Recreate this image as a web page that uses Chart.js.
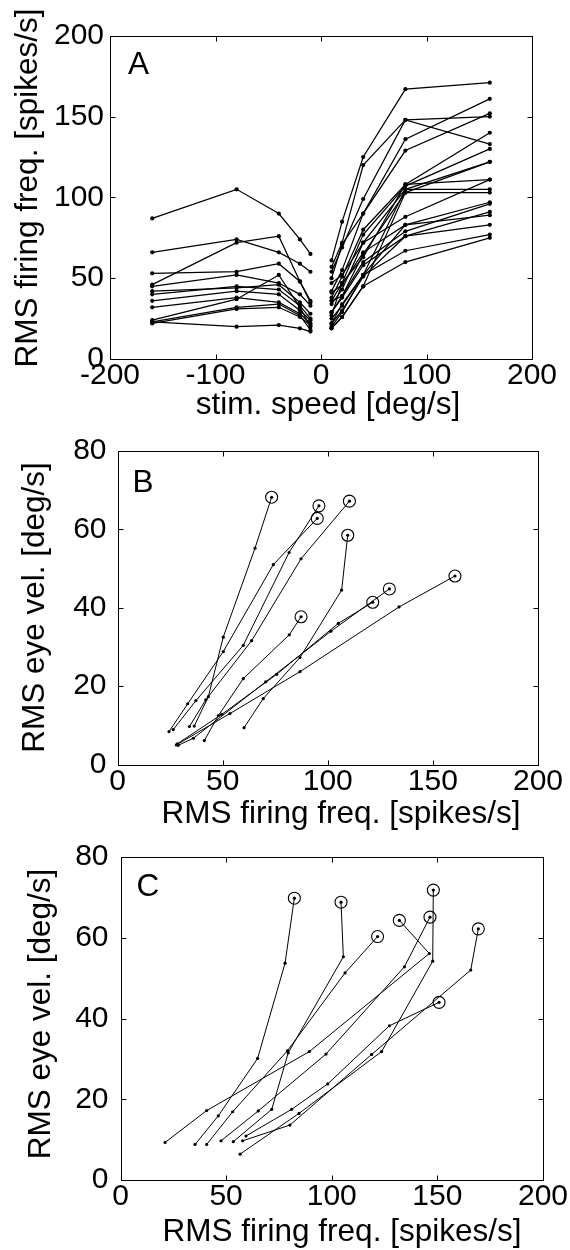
<!DOCTYPE html>
<html><head><meta charset="utf-8">
<script src="https://cdn.jsdelivr.net/npm/chart.js@4/dist/chart.umd.min.js"></script>
<style>
html,body{margin:0;padding:0;background:#fff;}
body{width:570px;height:1250px;position:relative;overflow:hidden;}
canvas{position:absolute;left:0;}
</style></head><body>
<canvas id="cA" width="570" height="425" style="top:0px"></canvas>
<canvas id="cB" width="570" height="405" style="top:425px"></canvas>
<canvas id="cC" width="570" height="420" style="top:830px"></canvas>
<script>
// ---------- DATA ----------
// Panel A: stimulus speeds (deg/s)
const speedsNeg = [-160, -80, -40, -20, -10];
const speedsPos = [10, 20, 40, 80, 160];
// Panel A: RMS firing freq. (spikes/s), one row per cell
const rateNeg = [
  [87, 105, 90, 74, 65],
  [66, 74, 66, 59, 54],
  [46, 72, 76, 48, 36],
  [53, 54, 59, 48, 35],
  [45, 52, 47, 40, 33],
  [42, 44, 46, 35, 28],
  [40, 45, 43, 33, 25],
  [36, 42, 40, 30, 24],
  [32, 38, 35, 28, 22],
  [24, 37, 52, 32, 20],
  [23, 32, 34, 27, 18],
  [22, 31, 32, 26, 21],
  [23, 20, 21, 19, 17]
];
const ratePos = [
  [61, 85, 125, 167, 171],
  [57, 72, 120, 148, 133],
  [54, 69, 99, 148, 150],
  [50, 71, 90, 136, 161],
  [42, 55, 90, 129, 152],
  [38, 51, 80, 108, 140],
  [36, 47, 77, 107, 130],
  [34, 43, 72, 105, 122],
  [29, 39, 65, 103, 122],
  [27, 47, 63, 108, 111],
  [22, 34, 52, 105, 105],
  [19, 26, 45, 103, 103],
  [47, 52, 72, 88, 111],
  [41, 46, 66, 83, 97],
  [36, 39, 60, 79, 96],
  [29, 38, 58, 76, 91],
  [25, 33, 52, 83, 89],
  [22, 30, 51, 76, 83],
  [20, 29, 52, 67, 77],
  [19, 26, 45, 60, 75]
];
// Panel B: RMS firing freq. vs RMS eye vel.
const bFiring = [
  [36.5, 43.2, 50.3, 65.4, 73.3],
  [24.5, 33.4, 50.3, 74.1, 95.0],
  [26.5, 37.3, 59.8, 81.6, 95.8],
  [34.2, 42.0, 63.8, 87.3, 110.3],
  [60.2, 69.3, 86.8, 106.6, 109.5],
  [41.3, 48.0, 59.8, 81.7, 87.3],
  [28.9, 36.1, 70.5, 101.5, 129.3],
  [28.5, 49.6, 75.7, 105.0, 121.4],
  [28.0, 53.5, 86.8, 133.9, 160.5]
];
const bEye = [
  [9.8, 17.3, 32.5, 55.2, 68.2],
  [8.4, 15.5, 28.8, 51.0, 62.8],
  [8.9, 16.3, 30.4, 54.1, 66.0],
  [9.7, 16.5, 31.6, 52.5, 67.2],
  [9.4, 16.8, 27.3, 44.5, 58.5],
  [6.1, 12.5, 21.9, 33.1, 37.7],
  [4.9, 6.7, 21.1, 34.0, 44.8],
  [5.3, 12.8, 23.0, 36.0, 41.4],
  [5.0, 13.0, 23.7, 40.2, 48.1]
];
// Panel C
const cFiring = [
  [35.3, 46.3, 64.9, 77.9, 82.3],
  [53.4, 71.6, 79.4, 105.5, 104.4],
  [40.8, 53.1, 79.0, 106.3, 121.7],
  [21.1, 40.8, 89.4, 146.2, 132.0],
  [56.6, 84.5, 123.6, 147.8, 148.1],
  [47.6, 65.2, 97.3, 134.4, 146.5],
  [57.8, 80.2, 118.9, 165.8, 169.4],
  [59.4, 81.0, 98.1, 127.3, 150.8]
];
const cEye = [
  [8.8, 15.9, 30.1, 53.7, 69.8],
  [9.5, 17.5, 31.5, 55.3, 68.8],
  [8.8, 16.9, 32.0, 51.3, 60.3],
  [9.3, 17.2, 31.8, 56.1, 64.3],
  [6.4, 16.5, 31.8, 54.2, 71.8],
  [9.7, 17.1, 31.2, 52.8, 65.1],
  [9.7, 13.6, 31.1, 52.0, 62.2],
  [10.9, 17.5, 23.8, 38.2, 44.0]
];
// Tick labels
const aXTicks = [-200, -100, 0, 100, 200];
const aYTicks = [0, 50, 100, 150, 200];
const bcXTicks = [0, 50, 100, 150, 200];
const bcYTicks = [0, 20, 40, 60, 80];

// ---------- RENDERING ----------
const FONT = '"Liberation Sans", Arial, Helvetica, sans-serif';

const framePlugin = {
  id: 'frame',
  afterDraw(chart, args, o) {
    const {ctx, chartArea: a, scales: {x, y}} = chart;
    ctx.save();
    ctx.strokeStyle = '#000';
    ctx.lineWidth = 1;
    const L = Math.round(a.left) + 0.5, R = Math.round(a.right) + 0.5;
    const T = Math.round(a.top) + 0.5, B = Math.round(a.bottom) + 0.5;
    ctx.strokeRect(L, T, R - L, B - T);
    ctx.beginPath();
    const tl = 5;
    x.ticks.forEach(t => {
      const p = Math.round(x.getPixelForValue(t.value)) + 0.5;
      ctx.moveTo(p, B); ctx.lineTo(p, B - tl);
      ctx.moveTo(p, T); ctx.lineTo(p, T + tl);
    });
    y.ticks.forEach(t => {
      const p = Math.round(y.getPixelForValue(t.value)) + 0.5;
      ctx.moveTo(L, p); ctx.lineTo(L + tl, p);
      ctx.moveTo(R, p); ctx.lineTo(R - tl, p);
    });
    ctx.stroke();
    ctx.fillStyle = '#000';
    ctx.font = '31.5px ' + FONT;
    ctx.textAlign = 'center';
    ctx.textBaseline = 'middle';
    ctx.fillText(o.xTitle, o.xTitleX, o.xTitleY);
    ctx.save();
    ctx.translate(o.yTitleX, o.yTitleY);
    ctx.rotate(-Math.PI / 2);
    ctx.fillText(o.yTitle, 0, 0);
    ctx.restore();
    ctx.textAlign = 'left';
    ctx.textBaseline = 'top';
    ctx.fillText(o.letter, a.left + o.letterDx, a.top + o.letterDy);
    ctx.restore();
  }
};

function lineDs(xs, ys, r, w) {
  return {
    data: xs.map((v, i) => ({x: v, y: ys[i]})),
    showLine: true,
    borderColor: '#000',
    backgroundColor: '#000',
    borderWidth: w,
    pointRadius: r,
    pointBorderWidth: 0,
    pointHoverRadius: r,
    tension: 0
  };
}
function endDs(xs, ys) {
  return {
    data: xs.map((row, i) => ({x: row[row.length - 1], y: ys[i][ys[i].length - 1]})),
    showLine: false,
    borderColor: '#000',
    backgroundColor: 'rgba(0,0,0,0)',
    pointRadius: 6,
    pointBorderWidth: 1.1,
    pointHoverRadius: 6
  };
}

function makeChart(id, H, area, xr, yr, xt, yt, datasets, frameOpts, yPad) {
  return new Chart(document.getElementById(id), {
    type: 'scatter',
    data: {datasets},
    options: {
      responsive: false,
      animation: false,
      events: [],
      layout: {padding: {left: 0, top: area.top, right: 570 - area.right, bottom: 0}},
      plugins: {legend: {display: false}, tooltip: {enabled: false}, frame: frameOpts},
      scales: {
        x: {
          type: 'linear', min: xr[0], max: xr[1],
          afterBuildTicks: s => { s.ticks = xt.map(v => ({value: v})); },
          afterFit: s => { s.height = H - area.bottom; },
          grid: {display: false, drawTicks: false},
          border: {display: false},
          ticks: {color: '#000', font: {family: FONT, size: 30, lineHeight: 1}, padding: 2, maxRotation: 0, autoSkip: false}
        },
        y: {
          type: 'linear', min: yr[0], max: yr[1],
          afterBuildTicks: s => { s.ticks = yt.map(v => ({value: v})); },
          afterFit: s => { s.width = area.left; },
          grid: {display: false, drawTicks: false},
          border: {display: false},
          ticks: {color: '#000', font: {family: FONT, size: 30, lineHeight: 1}, padding: yPad, autoSkip: false}
        }
      }
    },
    plugins: [framePlugin]
  });
}

// Panel A
const aSets = [];
rateNeg.forEach(r => aSets.push(lineDs(speedsNeg, r, 2.1, 1.25)));
ratePos.forEach(r => aSets.push(lineDs(speedsPos, r, 2.1, 1.25)));
makeChart('cA', 425, {left: 110, right: 532, top: 35.8, bottom: 359}, [-200, 200], [0, 200], aXTicks, aYTicks, aSets,
  {xTitle: 'stim. speed [deg/s]', xTitleX: 328, xTitleY: 405,
   yTitle: 'RMS firing freq. [spikes/s]', yTitleX: 28.5, yTitleY: 188,
   letter: 'A', letterDx: 18, letterDy: 14}, 6);

// Panel B (canvas top 425)
const bSets = bFiring.map((f, i) => lineDs(f, bEye[i], 1.6, 1));
bSets.push(endDs(bFiring, bEye));
makeChart('cB', 405, {left: 117.5, right: 538, top: 18.7, bottom: 339.5}, [0, 200], [0, 80], bcXTicks, bcYTicks, bSets,
  {xTitle: 'RMS firing freq. [spikes/s]', xTitleX: 341, xTitleY: 814 - 425,
   yTitle: 'RMS eye vel. [deg/s]', yTitleX: 35, yTitleY: 607.5 - 425,
   letter: 'B', letterDx: 15, letterDy: 17}, 11);

// Panel C (canvas top 830)
const cSets = cFiring.map((f, i) => lineDs(f, cEye[i], 1.6, 1));
cSets.push(endDs(cFiring, cEye));
makeChart('cC', 420, {left: 120.5, right: 543, top: 27, bottom: 350}, [0, 200], [0, 80], bcXTicks, bcYTicks, cSets,
  {xTitle: 'RMS firing freq. [spikes/s]', xTitleX: 342, xTitleY: 1232 - 830,
   yTitle: 'RMS eye vel. [deg/s]', yTitleX: 41.5, yTitleY: 1014 - 830,
   letter: 'C', letterDx: 16, letterDy: 15}, 12);
</script>
</body></html>
